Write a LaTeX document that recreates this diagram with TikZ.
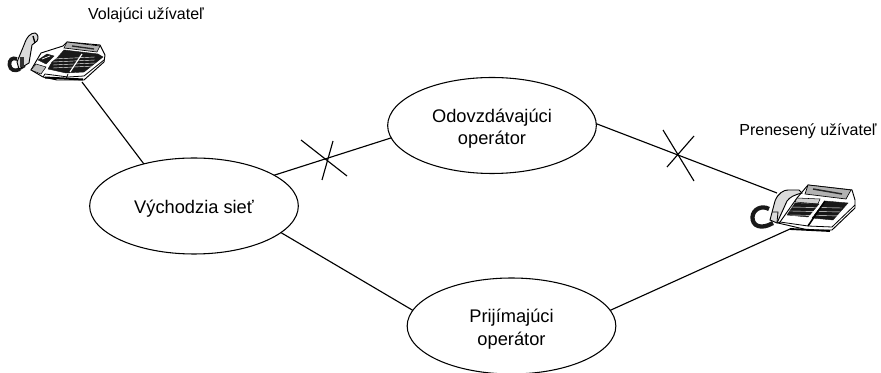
\documentclass[tikz,border=0pt]{standalone}
\usepackage{fontspec}
\setmainfont{Liberation Sans}
\usetikzlibrary{shapes.geometric}
\newcommand{\ovalstrut}{\rule{0pt}{14.8pt}}
\tikzset{
  oval/.style={ellipse,draw=black,line width=0.8pt,inner sep=0pt,outer sep=0pt,align=center,minimum width=156.5pt,minimum height=72pt,font=\fontsize{13.7}{16.6}\selectfont},
  caption/.style={inner sep=0pt,font=\fontsize{12}{14}\selectfont},
  link/.style={draw=black,line width=0.85pt},
  crossmark/.style={draw=black,line width=0.85pt},
  shell/.style={draw=black,line width=0.7pt,fill=white},
  greyshell/.style={draw=black,line width=0.7pt,fill=black!14},
  ink/.style={fill=black!90,draw=black!90,line width=0.3pt},
  cord/.style={draw=black!90,line width=2.8pt},
  detail/.style={draw=black,line width=0.6pt},
  keyline/.style={draw=white,line width=0.3pt}
}
\begin{document}
\begin{tikzpicture}[x=0.75pt,y=-0.75pt]
\useasboundingbox (0,0) rectangle (881,373);
% ---- calling phone
\draw[cord] (17,59) .. controls (12,57) and (9,60) .. (9.5,65) .. controls (10,70) and (15,72) .. (20,69);
\draw[cord,line width=1.6pt] (20,69) -- (25,66);
\draw[greyshell] (17,62) -- (24,45) .. controls (27,36) and (31,33) .. (35,33) .. controls (38,34) and (39,38) .. (37,41) -- (32,45) -- (29,63) -- (19,69) -- cycle;
\draw[detail,line width=1pt] (33,36) -- (35,43);
\fill[black!80] (20,57) rectangle (24,67);
\draw[shell] (31,70) -- (41,53) -- (63,46) -- (67,42) -- (100,45) -- (105,55) -- (104,62) -- (84,80) -- (57,80) -- (43,77) -- cycle;
\fill[black!30,draw=black,line width=0.5pt] (67,42) -- (100,46) -- (97,52) -- (64,48) -- cycle;
\draw[black!85,line width=1pt] (72,46) -- (94,49);
\fill[ink] (57,58) -- (64,50) -- (98,54) -- (103,57) -- (84,72) -- (66,73) -- (48,69) -- (52,62) -- cycle;
\draw[white,line width=0.9pt] (70,72) -- (82,54);
\foreach \yy in {59,62,65,68} {\draw[keyline] (53,\yy) -- (95,\yy-2);}
\fill[ink] (38,60) -- (47,54) -- (54,56) -- (46,64) -- cycle;
\draw[white,line width=0.5pt] (42,59) -- (50,56);
\fill[black!25,draw=black,line width=0.4pt] (31,70) -- (36,64) -- (46,67) -- (41,74) -- cycle;
\draw[detail] (43,77) -- (45,74) -- (68,77) -- (84,76) -- (104,60);
\draw[detail] (68,74) -- (66,79);
\draw[black,line width=1.5pt] (45,77.5) -- (83,79.5);
\coordinate (callerphone) at (82,82);
% ---- ported phone
\draw[cord,line width=3.2pt] (769,209) .. controls (762,205) and (753,209) .. (752.5,217) .. controls (752,226) and (761,230) .. (773,223);
\draw[shell] (780,222) -- (797,198) -- (808,185) -- (852,190) -- (855,200) -- (855,208) -- (832,230) -- (808,230) -- (778,223) -- cycle;
\fill[black!30,draw=black,line width=0.5pt] (808,185) -- (851,190) -- (846,199) -- (805,194) -- cycle;
\draw[black!85,line width=1.1pt] (813,189) -- (842,194);
\fill[black!18,draw=black,line width=0.4pt] (797,198) -- (820,199) -- (818,204) -- (795,202) -- cycle;
\fill[ink] (795,203) -- (819,204) -- (808,217) -- (787,215) -- cycle;
\fill[ink] (825,201) -- (848,203) -- (833,220) -- (812,218) -- cycle;
\foreach \yy in {207,211,215} {\draw[keyline] (790,\yy) -- (842,\yy+1);}
\draw[detail] (780,222) -- (808,226) -- (832,227) -- (855,205);
\draw[black,line width=1.2pt] (808,226) -- (825,201);
\draw[black,line width=1.4pt] (790,229) -- (830,231);
\draw[greyshell] (770,220) -- (775,201) .. controls (778,193) and (784,190) .. (788,190) -- (799,190) -- (802,193) .. controls (794,195) and (790,197) .. (787,201) -- (777,223) -- cycle;
\draw[detail] (772,212) -- (778,212) -- (777,222);
\coordinate (portedphone) at (777,193);
\coordinate (portedbase) at (790,229);
% ---- ovals
\node[oval] (orig) at (194,206) {\ovalstrut Východzia sieť};
\node[oval] (donor) at (492,125.5) {\ovalstrut Odovzdávajúci\\operátor};
\node[oval] (recip) at (511.5,326) {\ovalstrut Prijímajúci\\operátor};
% ---- captions
\node[caption] (callercap) at (146,15) {Volajúci užívateľ};
\node[caption] (portedcap) at (808,131.5) {Prenesený užívateľ};
% ---- connectors
\draw[link] (callerphone) -- (orig.140);
\draw[link] (orig.21) -- (donor.187);
\draw[link] (orig.-17.4) -- (recip.171);
\draw[link] (donor.1.5) -- (portedphone);
\draw[link] (recip.9) -- (portedbase);
% ---- crosses
\coordinate (xa1) at (301,140); \coordinate (xa2) at (347,176);
\coordinate (xa3) at (333,141); \coordinate (xa4) at (322,180);
\coordinate (xb1) at (663,130); \coordinate (xb2) at (694,181);
\coordinate (xb3) at (694,136); \coordinate (xb4) at (667,167);
\draw[crossmark] (xa1) -- (xa2);
\draw[crossmark] (xa3) -- (xa4);
\draw[crossmark] (xb1) -- (xb2);
\draw[crossmark] (xb3) -- (xb4);
\end{tikzpicture}
\end{document}
